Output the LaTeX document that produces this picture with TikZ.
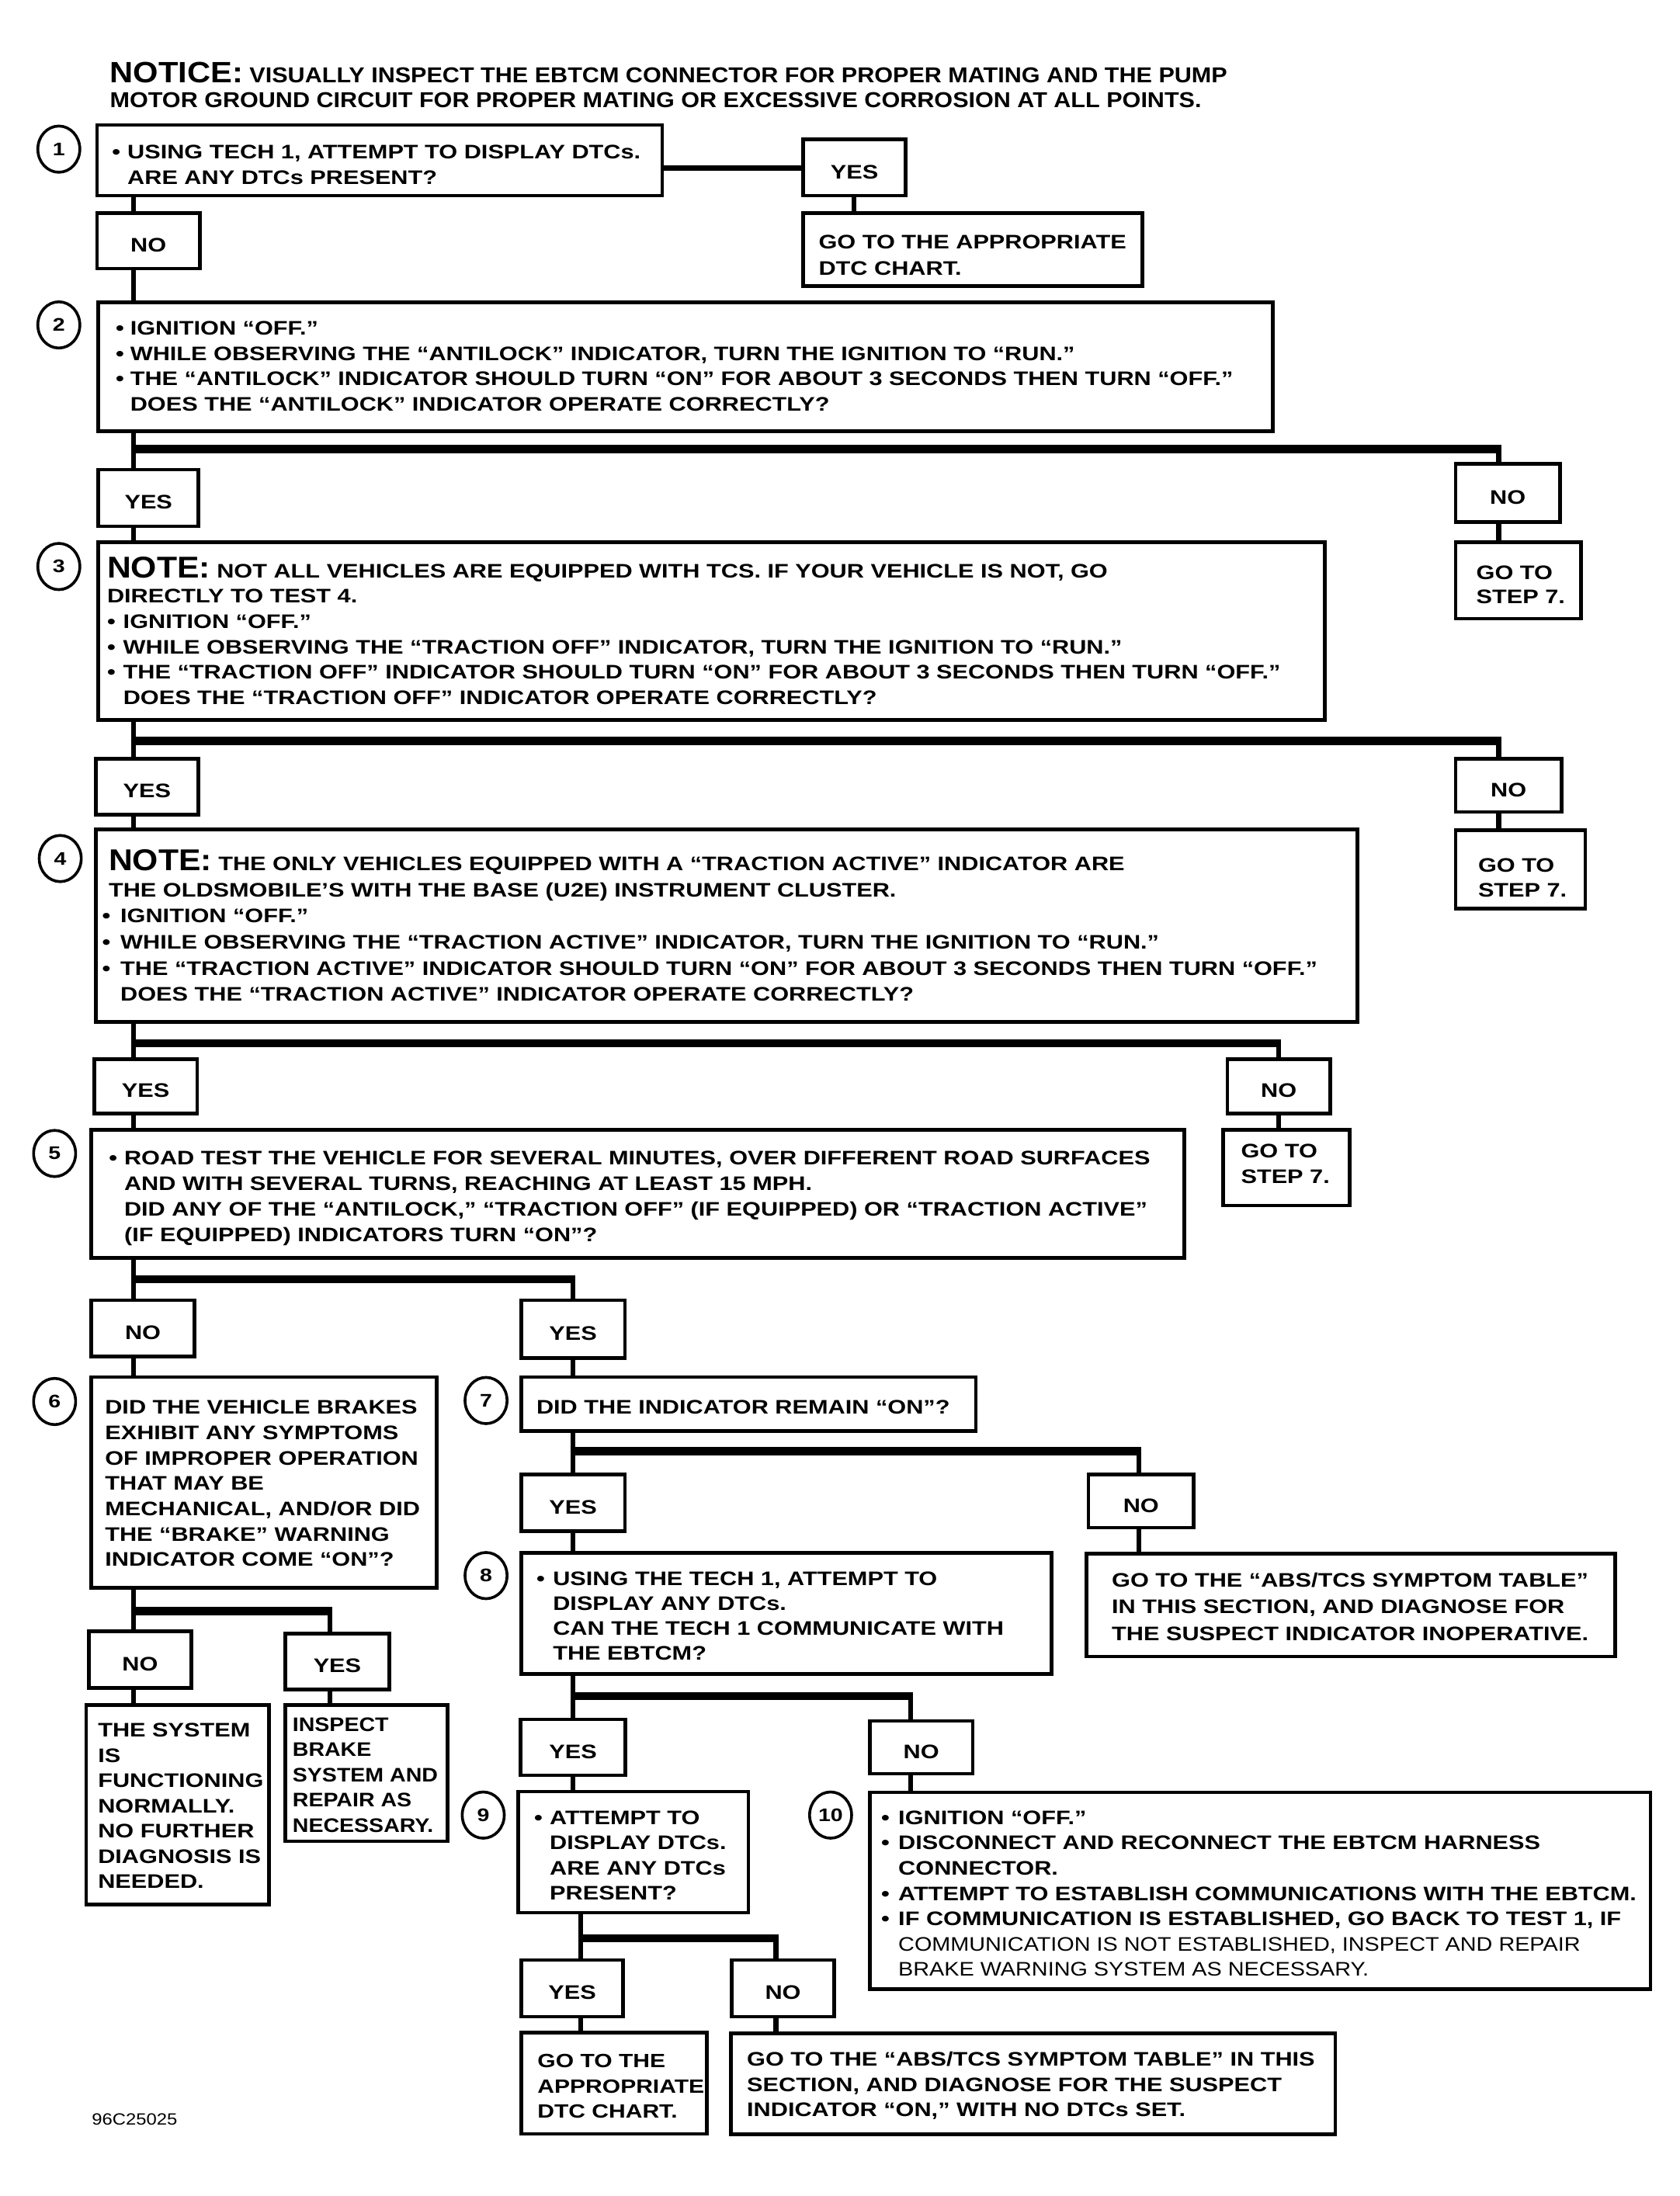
\documentclass[tikz,border=0pt]{standalone}
\usepackage{fontspec}
\setmainfont{Liberation Sans}[FakeStretch=1.215]
\newfontfamily\bigfont{Liberation Sans}[FakeStretch=1.1]
\newfontfamily\lightfont{Liberation Sans}[FakeStretch=1.14]
\newfontfamily\narrowfont{Liberation Sans}[FakeStretch=1.13]
\usetikzlibrary{shapes.geometric}
\newcommand\bul[1][11.5pt]{\makebox[#1][l]{•}}
\newcommand\ind[1][11.5pt]{\hspace*{#1}}
\newcommand\tlines[1]{\begin{tabular}[t]{@{}l@{}}#1\end{tabular}}
\newcommand\bignote{{\bigfont\fontsize{21.5}{18}\selectfont NOTE:}}
\begin{document}
\begin{tikzpicture}[x=1pt,y=-1pt,line join=miter,
  bx/.style={draw, rectangle, line width=2.6pt, inner sep=0pt, anchor=north west,
    font=\bfseries\fontsize{14}{17}\selectfont},
  lbl/.style={bx, text height=16pt, text depth=0pt},
  txt/.style={anchor=base west, inner sep=0pt, outer sep=0pt},
  tf/.style={font=\bfseries\fontsize{14}{#1}\selectfont},
  num/.style={draw, ellipse, line width=2pt, minimum width=30pt, minimum height=33pt,
    inner sep=0pt, font=\bfseries\fontsize{13}{13}\selectfont},
  conn/.style={line width=3.4pt},
  hconn/.style={line width=4pt},
  bar/.style={line width=5.8pt, shorten <=-1.7pt, shorten >=-1.7pt}]
\path[fill=white, use as bounding box] (0,0) rectangle (1199,1568);

% columns and rows for connectors
\coordinate (cA) at (95.5,0);
\coordinate (cY1) at (609.5,0);
\coordinate (cR) at (1070,0);
\coordinate (cR4) at (913,0);
\coordinate (cB) at (409,0);
\coordinate (cC) at (414.8,0);
\coordinate (c6) at (235.4,0);
\coordinate (c7) at (813,0);
\coordinate (c8) at (650,0);
\coordinate (c9) at (554,0);
\coordinate (h1) at (0,120);
\coordinate (r2) at (0,320.7);
\coordinate (r3) at (0,529);
\coordinate (r4) at (0,745);
\coordinate (r5) at (0,913.3);
\coordinate (r6) at (0,1150.3);
\coordinate (r7) at (0,1036.3);
\coordinate (r8) at (0,1211);
\coordinate (r9) at (0,1384);

% notice
\node[txt, font={\bigfont\bfseries\fontsize{15.4}{17.7}\selectfont}] (notice) at (78.5,58.8)
 {\tlines{{\fontsize{21}{17.7}\selectfont NOTICE:} VISUALLY INSPECT THE EBTCM CONNECTOR FOR PROPER MATING AND THE PUMP\\
 MOTOR GROUND CIRCUIT FOR PROPER MATING OR EXCESSIVE CORROSION AT ALL POINTS.}};

% boxes
\node[bx, minimum width=403.4, minimum height=50.4] (b1) at (68,88) {};
\node[lbl, minimum width=73.4, minimum height=40.4] (yes1) at (572,98) {YES};
\node[bx, minimum width=242.4, minimum height=51.9] (go1) at (572,151) {};
\node[lbl, minimum width=73.4, minimum height=39.4] (no1) at (68,151) {NO};
\node[bx, minimum width=838.4, minimum height=91.9] (b2) at (69,214.5) {};
\node[lbl, minimum width=71.4, minimum height=40.4] (yes2) at (69,334) {YES};
\node[lbl, minimum width=74.4, minimum height=41.4] (no2) at (1038,330) {NO};
\node[bx, minimum width=89.4, minimum height=54.4] (go2) at (1038,386) {};
\node[bx, minimum width=875.4, minimum height=126.9] (b3) at (69,386) {};
\node[lbl, minimum width=73.4, minimum height=39.9] (yes3) at (67,540.5) {YES};
\node[lbl, minimum width=75.4, minimum height=37.9] (no3) at (1038,540.5) {NO};
\node[bx, minimum width=92.4, minimum height=56.1] (go3) at (1038,591.3) {};
\node[bx, minimum width=900.9, minimum height=137.4] (b4) at (67,591) {};
\node[lbl, minimum width=73.4, minimum height=38.8] (yes4) at (66,755) {YES};
\node[lbl, minimum width=73.4, minimum height=38.8] (no4) at (875,755) {NO};
\node[bx, minimum width=90.4, minimum height=53.8] (go4) at (872,805.6) {};
\node[bx, minimum width=780.4, minimum height=91.4] (b5) at (64,805.5) {};
\node[lbl, minimum width=73.4, minimum height=40.4] (no5) at (64,927) {NO};
\node[lbl, minimum width=74.1, minimum height=41.4] (yes5) at (370.7,927) {YES};
\node[bx, minimum width=246.4, minimum height=150.4] (b6) at (64,982) {};
\node[bx, minimum width=324.7, minimum height=38.4] (b7) at (370.7,982) {};
\node[lbl, minimum width=73.4, minimum height=40.4] (no6) at (62,1163.6) {NO};
\node[lbl, minimum width=74.4, minimum height=39.9] (yes6) at (202.3,1165) {YES};
\node[bx, minimum width=130.4, minimum height=142.4] (sys) at (60.3,1216) {};
\node[bx, minimum width=116.1, minimum height=97.4] (insp) at (202.3,1216) {};
\node[lbl, minimum width=74.1, minimum height=40.4] (yes7) at (370.7,1051.6) {YES};
\node[lbl, minimum width=75.1, minimum height=38] (no7) at (775.8,1051.4) {NO};
\node[bx, minimum width=377.4, minimum height=73.4] (go7) at (774.4,1108) {};
\node[bx, minimum width=378.9, minimum height=86.7] (b8) at (370.7,1107.4) {};
\node[lbl, minimum width=75, minimum height=39.8] (yes8) at (370.3,1226.4) {YES};
\node[lbl, minimum width=73.4, minimum height=37.8] (no8) at (619.7,1227.4) {NO};
\node[bx, minimum width=164.4, minimum height=86.4] (b9) at (368.6,1278) {};
\node[bx, minimum width=557.4, minimum height=140.6] (b10) at (619.7,1278.4) {};
\node[lbl, minimum width=72.4, minimum height=40.4] (yes9) at (371,1398.2) {YES};
\node[lbl, minimum width=73.4, minimum height=40.4] (no9) at (521,1398.2) {NO};
\node[bx, minimum width=132.4, minimum height=72.4] (go9) at (371,1450) {};
\node[bx, minimum width=431.4, minimum height=72.2] (go9b) at (520.6,1450.5) {};

% step numbers
\node[num] (n1) at (42,106.5) {1};
\node[num] (n2) at (42,232) {2};
\node[num] (n3) at (42,404.5) {3};
\node[num] (n4) at (43,613) {4};
\node[num] (n5) at (39,823.6) {5};
\node[num] (n6) at (39,1000.7) {6};
\node[num] (n7) at (347,1000) {7};
\node[num] (n8) at (347,1125) {8};
\node[num] (n9) at (345,1296) {9};
\node[num] (n10) at (593,1296) {10};

% texts
\node[txt, tf=18] (t1) at (80,113.6) {\tlines{\bul[11pt]USING TECH 1, ATTEMPT TO DISPLAY DTCs.\\ \ind[11pt]ARE ANY DTCs PRESENT?}};
\node[txt, tf=18.5] (tg1) at (584.5,177.8) {\tlines{GO TO THE APPROPRIATE\\ DTC CHART.}};
\node[txt, tf=18] (t2) at (82.6,239.4) {\tlines{\bul[10.4pt]IGNITION “OFF.”\\
 \bul[10.4pt]WHILE OBSERVING THE “ANTILOCK” INDICATOR, TURN THE IGNITION TO “RUN.”\\
 \bul[10.4pt]THE “ANTILOCK” INDICATOR SHOULD TURN “ON” FOR ABOUT 3 SECONDS THEN TURN “OFF.”\\
 \ind[10.4pt]DOES THE “ANTILOCK” INDICATOR OPERATE CORRECTLY?}};
\node[txt, tf=17.5] (tg2) at (1054,413.6) {\tlines{GO TO\\ STEP 7.}};
\node[txt, tf=18.1] (t3) at (76.5,412.5) {\tlines{\bignote{} NOT ALL VEHICLES ARE EQUIPPED WITH TCS. IF YOUR VEHICLE IS NOT, GO\\
 DIRECTLY TO TEST 4.\\
 \bul IGNITION “OFF.”\\
 \bul WHILE OBSERVING THE “TRACTION OFF” INDICATOR, TURN THE IGNITION TO “RUN.”\\
 \bul THE “TRACTION OFF” INDICATOR SHOULD TURN “ON” FOR ABOUT 3 SECONDS THEN TURN “OFF.”\\
 \ind DOES THE “TRACTION OFF” INDICATOR OPERATE CORRECTLY?}};
\node[txt, tf=18] (tg3) at (1055.3,622.7) {\tlines{GO TO\\ STEP 7.}};
\node[txt, tf=18.6] (t4) at (73,621.8) {\tlines{\ind[4.6pt]\bignote{} THE ONLY VEHICLES EQUIPPED WITH A “TRACTION ACTIVE” INDICATOR ARE\\
 \ind[4.6pt]THE OLDSMOBILE’S WITH THE BASE (U2E) INSTRUMENT CLUSTER.\\
 \bul[13pt]IGNITION “OFF.”\\
 \bul[13pt]WHILE OBSERVING THE “TRACTION ACTIVE” INDICATOR, TURN THE IGNITION TO “RUN.”\\
 \bul[13pt]THE “TRACTION ACTIVE” INDICATOR SHOULD TURN “ON” FOR ABOUT 3 SECONDS THEN TURN “OFF.”\\
 \ind[13pt]DOES THE “TRACTION ACTIVE” INDICATOR OPERATE CORRECTLY?}};
\node[txt, tf=18] (tg4) at (886,826.9) {\tlines{GO TO\\ STEP 7.}};
\node[txt, tf=18.3] (t5) at (77.8,831.9) {\tlines{\bul[10.9pt]ROAD TEST THE VEHICLE FOR SEVERAL MINUTES, OVER DIFFERENT ROAD SURFACES\\
 \ind[10.9pt]AND WITH SEVERAL TURNS, REACHING AT LEAST 15 MPH.\\
 \ind[10.9pt]DID ANY OF THE “ANTILOCK,” “TRACTION OFF” (IF EQUIPPED) OR “TRACTION ACTIVE”\\
 \ind[10.9pt](IF EQUIPPED) INDICATORS TURN “ON”?}};
\node[txt, tf=18.1] (t6) at (75,1009.8) {\tlines{DID THE VEHICLE BRAKES\\ EXHIBIT ANY SYMPTOMS\\ OF IMPROPER OPERATION\\ THAT MAY BE\\ MECHANICAL, AND/OR DID\\ THE “BRAKE” WARNING\\ INDICATOR COME “ON”?}};
\node[txt, tf=18] (t7) at (383,1009.8) {DID THE INDICATOR REMAIN “ON”?};
\node[txt, tf=19.1] (tg7) at (793.8,1133) {\tlines{GO TO THE “ABS/TCS SYMPTOM TABLE”\\ IN THIS SECTION, AND DIAGNOSE FOR\\ THE SUSPECT INDICATOR INOPERATIVE.}};
\node[txt, tf=17.8] (t8) at (383,1131.8) {\tlines{\bul[11.8pt]USING THE TECH 1, ATTEMPT TO\\ \ind[11.8pt]DISPLAY ANY DTCs.\\ \ind[11.8pt]CAN THE TECH 1 COMMUNICATE WITH\\ \ind[11.8pt]THE EBTCM?}};
\node[txt, tf=18] (tsys) at (70,1240.4) {\tlines{THE SYSTEM\\ IS\\ FUNCTIONING\\ NORMALLY.\\ NO FURTHER\\ DIAGNOSIS IS\\ NEEDED.}};
\node[txt, font={\narrowfont\bfseries\fontsize{14}{18}\selectfont}] (tinsp) at (208.9,1236.2) {\tlines{INSPECT\\ BRAKE\\ SYSTEM AND\\ REPAIR AS\\ NECESSARY.}};
\node[txt, tf=18] (t9) at (381.4,1302.7) {\tlines{\bul[11.1pt]ATTEMPT TO\\ \ind[11.1pt]DISPLAY DTCs.\\ \ind[11.1pt]ARE ANY DTCs\\ \ind[11.1pt]PRESENT?}};
\node[txt, tf=18.05] (t10) at (629.2,1302.7) {\tlines{\bul[12.2pt]IGNITION “OFF.”\\
 \bul[12.2pt]DISCONNECT AND RECONNECT THE EBTCM HARNESS\\
 \ind[12.2pt]CONNECTOR.\\
 \bul[12.2pt]ATTEMPT TO ESTABLISH COMMUNICATIONS WITH THE EBTCM.\\
 \bul[12.2pt]IF COMMUNICATION IS ESTABLISHED, GO BACK TO TEST 1, IF\\
 \ind[12.2pt]{\lightfont\mdseries COMMUNICATION IS NOT ESTABLISHED, INSPECT AND REPAIR}\\
 \ind[12.2pt]{\lightfont\mdseries BRAKE WARNING SYSTEM AS NECESSARY.}}};
\node[txt, font={\bfseries\fontsize{13.7}{18}\selectfont}] (tg9) at (383.8,1476.3) {\tlines{GO TO THE\\ APPROPRIATE\\ DTC CHART.}};
\node[txt, tf=17.9] (tg9b) at (533.3,1475.4) {\tlines{GO TO THE “ABS/TCS SYMPTOM TABLE” IN THIS\\ SECTION, AND DIAGNOSE FOR THE SUSPECT\\ INDICATOR “ON,” WITH NO DTCs SET.}};
\node[txt, font={\lightfont\fontsize{11.6}{12}\selectfont}] (code) at (65.6,1517) {96C25025};

% connectors
\draw[conn] (b1.south -| cA) -- (no1.north -| cA);
\draw[conn] (no1.south -| cA) -- (b2.north -| cA);
\draw[hconn] (b1.east |- h1) -- (yes1.west |- h1);
\draw[conn] (yes1.south -| cY1) -- (go1.north -| cY1);

\draw[conn] (b2.south -| cA) -- (yes2.north -| cA);
\draw[bar] (cA |- r2) -- (cR |- r2);
\draw[conn] (cR |- r2) -- (no2.north -| cR);
\draw[conn] (no2.south -| cR) -- (go2.north -| cR);
\draw[conn] (yes2.south -| cA) -- (b3.north -| cA);

\draw[conn] (b3.south -| cA) -- (yes3.north -| cA);
\draw[bar] (cA |- r3) -- (cR |- r3);
\draw[conn] (cR |- r3) -- (no3.north -| cR);
\draw[conn] (no3.south -| cR) -- (go3.north -| cR);
\draw[conn] (yes3.south -| cA) -- (b4.north -| cA);

\draw[conn] (b4.south -| cA) -- (yes4.north -| cA);
\draw[bar] (cA |- r4) -- (cR4 |- r4);
\draw[conn] (cR4 |- r4) -- (no4.north -| cR4);
\draw[conn] (no4.south -| cR4) -- (go4.north -| cR4);
\draw[conn] (yes4.south -| cA) -- (b5.north -| cA);

\draw[conn] (b5.south -| cA) -- (no5.north -| cA);
\draw[bar] (cA |- r5) -- (cB |- r5);
\draw[conn] (cB |- r5) -- (yes5.north -| cB);
\draw[conn] (no5.south -| cA) -- (b6.north -| cA);
\draw[conn] (yes5.south -| cB) -- (b7.north -| cB);

\draw[conn] (b6.south -| cA) -- (no6.north -| cA);
\draw[bar] (cA |- r6) -- (c6 |- r6);
\draw[conn] (c6 |- r6) -- (yes6.north -| c6);
\draw[conn] (no6.south -| cA) -- (sys.north -| cA);
\draw[conn] (yes6.south -| c6) -- (insp.north -| c6);

\draw[conn] (b7.south -| cB) -- (yes7.north -| cB);
\draw[bar] (cB |- r7) -- (c7 |- r7);
\draw[conn] (c7 |- r7) -- (no7.north -| c7);
\draw[conn] (no7.south -| c7) -- (go7.north -| c7);
\draw[conn] (yes7.south -| cB) -- (b8.north -| cB);

\draw[conn] (b8.south -| cB) -- (yes8.north -| cB);
\draw[bar] (cB |- r8) -- (c8 |- r8);
\draw[conn] (c8 |- r8) -- (no8.north -| c8);
\draw[conn] (no8.south -| c8) -- (b10.north -| c8);
\draw[conn] (yes8.south -| cB) -- (b9.north -| cB);

\draw[conn] (b9.south -| cC) -- (yes9.north -| cC);
\draw[bar] (cC |- r9) -- (c9 |- r9);
\draw[conn] (c9 |- r9) -- (no9.north -| c9);
\draw[conn] (yes9.south -| cC) -- (go9.north -| cC);
\draw[conn] (no9.south -| c9) -- (go9b.north -| c9);
\end{tikzpicture}
\end{document}
